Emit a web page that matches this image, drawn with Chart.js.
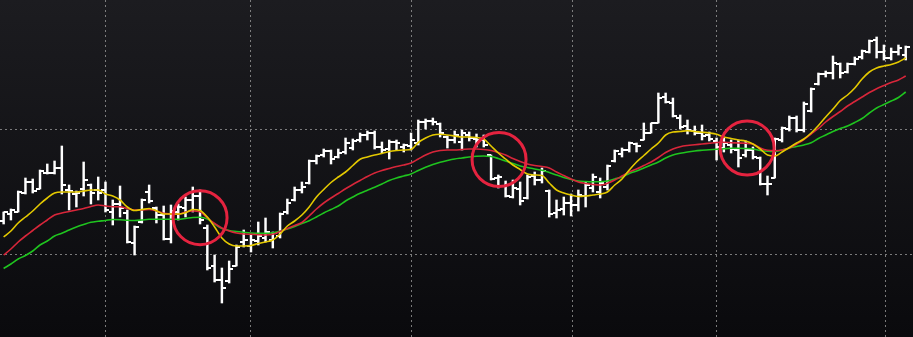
<!DOCTYPE html>
<html><head><meta charset="utf-8">
<script src="https://cdn.jsdelivr.net/npm/chart.js@4.4.1/dist/chart.umd.min.js"></script>
<style>html,body{margin:0;padding:0;background:#121215;overflow:hidden}#wrap{width:913px;height:337px}</style>
</head><body><div id="wrap"><canvas id="c" width="913" height="337"></canvas></div>
<script>
// OHLC prices, one per trading day (index 0..124)
const opens=[111.6,112.3,112.5,114.4,115.5,114.8,116.4,116.4,116.9,114.7,
114.3,114.8,115.2,114.7,114.7,112.5,113.3,112.4,109.4,111.5,
114.5,112.9,112.2,109.8,112.5,112.9,113.7,114.1,110.9,107.1,
105.7,105.6,107.1,109.5,109.1,109.6,109.9,109.7,110.1,112.5,
113.7,114.7,115.4,117.6,118.2,118.6,118.0,118.5,118.9,119.7,
120.2,120.4,119.0,118.8,119.5,119.0,119.1,119.4,121.5,121.6,
121.3,120.0,119.7,119.5,120.2,119.8,119.7,118.2,115.9,115.1,
114.0,114.8,113.9,116.1,115.7,114.6,112.4,112.8,113.4,113.2,
114.1,114.9,114.5,115.0,117.6,118.3,118.7,119.3,119.7,120.4,
121.4,124.0,123.4,121.9,121.1,120.6,120.4,120.2,119.6,118.9,
119.2,118.7,118.2,118.7,117.9,115.3,115.9,119.7,120.8,121.9,
120.7,122.6,125.3,126.3,126.4,127.3,126.5,127.3,128.0,128.5,
129.7,128.5,127.9,128.5,128.2];
const highs=[112.5,112.8,114.6,115.9,115.8,116.7,117.3,117.6,119.1,115.2,
114.6,117.5,115.3,116.0,115.5,113.7,115.1,112.7,111.1,113.8,
115.2,113.0,113.1,113.2,113.3,114.0,115.0,114.7,111.2,108.2,
106.9,107.6,109.2,110.7,110.3,111.5,111.9,110.5,112.4,113.8,
115.0,115.5,117.7,118.2,118.8,118.7,118.8,119.9,119.8,120.4,
120.6,120.6,119.5,119.7,119.7,119.3,120.4,121.7,121.8,121.9,
121.4,120.1,120.6,120.7,120.5,120.3,120.2,118.2,116.2,115.6,
115.7,115.5,116.2,116.5,116.9,114.7,113.7,114.0,114.3,114.7,
115.5,116.3,115.9,117.2,118.7,118.9,119.5,119.4,121.4,121.4,
124.4,124.4,123.9,122.2,121.7,121.1,121.2,120.5,119.9,119.9,
119.7,119.7,119.6,119.0,118.0,116.1,119.9,121.0,122.1,122.1,
123.5,124.9,126.4,126.6,128.1,127.4,127.4,128.0,128.7,129.7,
130.0,129.2,128.9,129.2,129.1];
const lows=[111.3,111.7,112.5,114.3,114.4,114.8,116.3,116.3,114.3,112.7,
113.0,114.1,113.3,113.7,112.5,111.2,112.0,109.4,108.2,111.4,
113.4,111.4,109.7,109.4,111.7,112.0,112.5,111.3,106.7,105.5,
103.4,105.4,107.1,109.0,108.5,109.2,109.5,108.9,109.9,112.3,
113.6,114.4,115.3,117.3,118.0,117.3,117.9,118.3,118.7,119.5,
119.7,118.8,118.4,117.8,118.7,118.5,118.7,119.2,120.8,121.2,
120.0,118.9,119.4,118.7,119.6,119.0,119.0,115.7,114.9,114.0,
113.9,113.2,113.8,115.2,115.4,112.0,111.9,112.2,112.1,112.6,
113.0,114.5,113.9,114.7,117.5,118.0,118.5,118.5,119.7,120.4,
121.4,123.4,122.0,120.8,120.3,120.2,119.7,119.6,117.7,118.5,
118.4,117.0,118.0,117.8,115.2,114.2,115.9,119.5,120.6,120.5,
120.5,122.5,125.2,126.0,125.8,125.9,126.4,127.2,127.8,128.4,
127.9,127.7,127.7,128.2,127.7];
const closes=[112.5,112.7,114.5,115.5,114.6,116.6,116.4,116.9,115.2,114.6,
114.4,115.7,114.4,114.4,112.7,113.3,112.9,109.5,111.0,113.7,
113.6,112.2,109.8,112.6,113.0,113.7,114.1,111.7,106.9,105.7,
104.9,106.8,109.0,109.7,109.7,110.1,110.5,110.4,112.3,113.4,
114.7,115.0,117.6,118.1,118.6,117.8,118.4,119.4,119.6,120.2,
120.4,119.0,118.7,119.5,119.4,119.2,119.7,121.5,121.6,121.5,
120.4,119.7,120.2,120.4,119.9,119.7,119.2,115.8,116.0,114.1,
114.9,113.6,116.0,115.7,116.6,112.3,112.7,113.4,113.2,114.2,
115.2,116.0,115.4,117.1,118.6,118.7,119.4,119.1,120.4,121.4,
123.9,123.5,122.1,121.0,120.7,120.4,120.1,119.8,119.0,119.4,
118.8,117.9,118.7,118.0,115.3,115.3,119.8,120.9,121.9,120.7,
123.3,124.8,126.3,126.4,127.4,126.4,127.3,127.8,128.6,129.6,
128.5,127.9,128.5,128.9,129.0];
// moving averages
const maFast=[110.0,110.6,111.4,112.0,112.6,113.3,113.9,114.4,114.5,114.5,
114.5,114.6,114.7,114.7,114.3,114.1,113.7,113.0,112.65,112.75,
112.85,112.63,112.3,112.3,112.3,112.43,112.75,112.65,112.0,111.0,
109.9,109.3,109.1,109.1,109.15,109.35,109.5,109.7,110.3,111.1,
111.6,112.2,113.0,114.0,114.75,115.45,116.0,116.5,117.15,117.77,
118.0,118.2,118.35,118.55,118.65,118.7,118.75,119.45,119.9,120.2,
120.27,120.2,120.1,120.0,120.0,119.95,119.8,119.1,118.4,117.8,
117.2,116.75,116.3,116.2,116.15,115.4,114.7,114.4,114.2,114.05,
114.1,114.2,114.3,114.5,115.2,115.8,116.7,117.5,118.15,118.8,
119.4,120.2,120.5,120.55,120.63,120.55,120.48,120.4,120.27,120.0,
119.85,119.7,119.6,119.3,118.8,118.2,118.1,118.5,118.95,119.4,
119.8,120.4,121.15,122.0,122.8,123.65,124.2,124.9,125.8,126.5,
126.9,127.1,127.25,127.5,127.9];
const maMid=[108.2,108.8,109.5,110.1,110.65,111.2,111.7,112.2,112.4,112.55,
112.7,112.85,113.05,113.2,113.1,113.03,113.03,112.85,112.7,112.7,
112.75,112.6,112.37,112.3,112.27,112.5,112.6,112.53,111.9,111.35,
110.9,110.6,110.4,110.3,110.27,110.23,110.2,110.27,110.55,110.85,
111.15,111.45,112.1,112.8,113.4,113.9,114.35,114.83,115.25,115.65,
116.05,116.4,116.65,116.85,117.05,117.2,117.4,117.8,118.2,118.5,
118.65,118.7,118.7,118.75,118.8,118.8,118.75,118.65,118.45,118.2,
117.85,117.55,117.3,117.15,117.05,116.9,116.5,116.15,115.8,115.5,
115.35,115.25,115.2,115.37,115.7,116.1,116.5,116.8,117.15,117.5,
117.95,118.45,118.8,119.03,119.15,119.22,119.3,119.37,119.45,119.47,
119.43,119.4,119.37,119.3,118.9,118.67,118.63,118.7,118.9,119.3,
119.75,120.3,120.85,121.5,122.05,122.55,123.1,123.55,124.0,124.45,
124.83,125.15,125.45,125.7,126.1];
const maSlow=[106.85,107.3,107.8,108.15,108.6,109.2,109.6,110.1,110.37,110.7,
111.0,111.25,111.47,111.57,111.65,111.75,111.73,111.67,111.65,111.7,
111.77,111.77,111.77,111.77,111.77,111.85,111.95,111.97,111.8,111.3,
110.85,110.65,110.55,110.47,110.4,110.37,110.37,110.43,110.57,110.8,
111.05,111.35,111.63,112.0,112.4,112.75,113.1,113.6,114.0,114.37,
114.67,114.97,115.3,115.65,115.9,116.1,116.3,116.65,116.97,117.25,
117.47,117.65,117.8,117.9,118.0,118.07,118.1,118.05,117.85,117.6,
117.35,117.1,116.95,116.8,116.67,116.45,116.2,115.95,115.75,115.6,
115.55,115.53,115.53,115.6,115.8,116.0,116.35,116.6,116.9,117.2,
117.5,117.9,118.2,118.37,118.5,118.6,118.67,118.73,118.77,118.83,
118.87,118.87,118.85,118.8,118.65,118.57,118.55,118.7,118.9,119.05,
119.2,119.43,119.85,120.2,120.55,120.85,121.1,121.45,121.85,122.4,
122.9,123.25,123.6,123.95,124.5];
// month boundaries (bar index) and price grid levels
const monthStarts=[14,34,56,78.2,98,121.2];
const priceGrid=[108.27,120.7];
// highlighted crossover zones (bar index, price)
const circleX=[27.0,68.1,102.2];
const circleY=[111.93,117.75,118.9];

const idx=opens.map((_,i)=>i);
function tickImage(left){
  const half=4,c=document.createElement('canvas');
  c.width=half*2;c.height=2;
  const g=c.getContext('2d');g.fillStyle='#ffffff';
  g.fillRect(left?0:half,0,half,2);
  return c;
}
const bgPlugin={id:'bg',beforeDraw(chart){
  const {ctx,width,height}=chart;
  const g=ctx.createLinearGradient(0,0,0,height);
  g.addColorStop(0,'#1c1c20');g.addColorStop(1,'#0a0a0d');
  ctx.save();ctx.fillStyle=g;ctx.fillRect(0,0,width,height);ctx.restore();
}};
const gridCommon={color:'rgba(150,150,150,0.8)',lineWidth:1,drawTicks:false,offset:false};
new Chart(document.getElementById('c'),{
  type:'scatter',
  data:{datasets:[
    {type:'scatter',data:circleX.map((x,i)=>({x,y:circleY[i]})),pointRadius:27,pointBorderWidth:3,
     pointBorderColor:'#e5233f',pointBackgroundColor:'rgba(0,0,0,0)',order:0},
    {type:'line',data:idx.map(i=>({x:i,y:maFast[i]})),borderColor:'#e4c900',borderWidth:1.6,pointRadius:0,
     cubicInterpolationMode:'monotone',fill:false,order:1},
    {type:'line',data:idx.map(i=>({x:i,y:maMid[i]})),borderColor:'#d8263a',borderWidth:1.6,pointRadius:0,
     cubicInterpolationMode:'monotone',fill:false,order:2},
    {type:'line',data:idx.map(i=>({x:i,y:maSlow[i]})),borderColor:'#1fc41f',borderWidth:1.6,pointRadius:0,
     cubicInterpolationMode:'monotone',fill:false,order:3},
    {type:'scatter',data:idx.map(i=>({x:i,y:opens[i]})),pointStyle:tickImage(true),order:4},
    {type:'scatter',data:idx.map(i=>({x:i,y:closes[i]})),pointStyle:tickImage(false),order:4},
    {type:'bar',data:idx.map(i=>({x:i,y:[lows[i],highs[i]]})),backgroundColor:'#ffffff',borderWidth:0,
     barThickness:1.8,grouped:false,order:5}
  ]},
  options:{
    responsive:false,animation:false,events:[],devicePixelRatio:1,
    layout:{padding:0,autoPadding:false},
    plugins:{legend:{display:false},tooltip:{enabled:false}},
    scales:{
      x:{type:'linear',min:-0.5,max:125,offset:false,ticks:{display:false},grid:gridCommon,
         border:{display:false,dash:[2,3]},afterBuildTicks(s){s.ticks=monthStarts.map(v=>({value:v}));}},
      y:{type:'linear',min:100,max:133.7,ticks:{display:false},grid:gridCommon,
         border:{display:false,dash:[2,3]},afterBuildTicks(s){s.ticks=priceGrid.map(v=>({value:v}));}}
    }
  },
  plugins:[bgPlugin]
});
</script></body></html>
